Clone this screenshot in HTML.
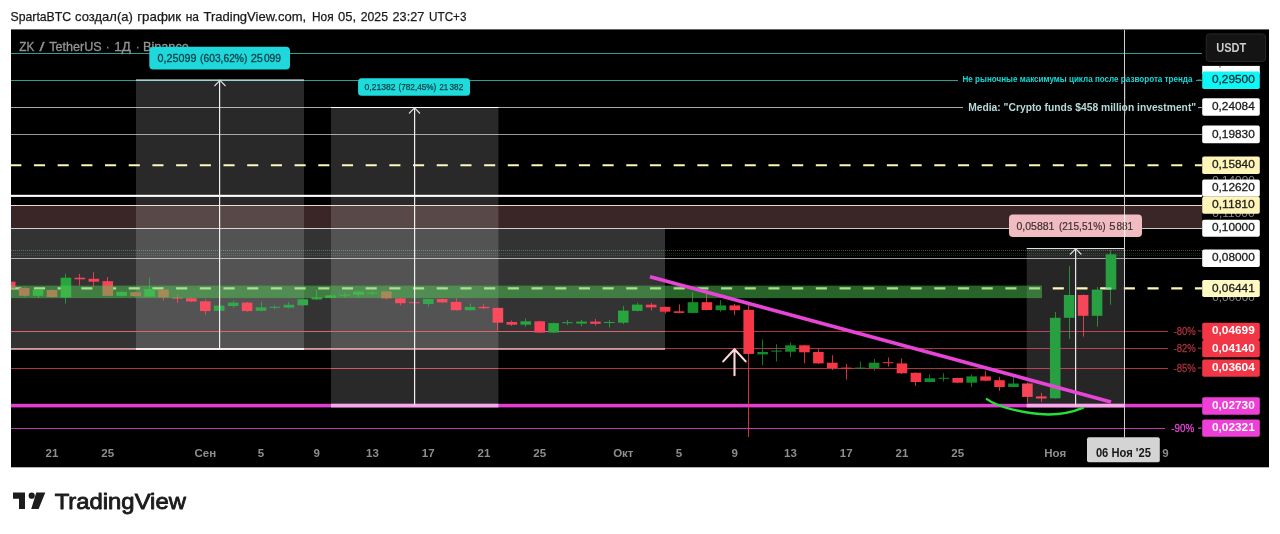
<!DOCTYPE html>
<html><head><meta charset="utf-8"><title>chart</title>
<style>html,body{margin:0;padding:0;background:#fff;width:1280px;height:534px;overflow:hidden}</style>
</head><body>
<svg width="1280" height="534" viewBox="0 0 1280 534" style="position:absolute;left:0;top:0;will-change:transform">
<defs><clipPath id="plot"><rect x="11" y="29.4" width="1191" height="438"/></clipPath></defs>
<rect x="0" y="0" width="1280" height="534" fill="#fff"/>
<rect x="11" y="29.4" width="1258" height="437.9" fill="#000"/>
<g clip-path="url(#plot)">
<rect x="11" y="53" width="1191" height="1" fill="#2f9d93"/>
<rect x="11" y="80" width="1191" height="1" fill="#2f9d93"/>
<rect x="11" y="107" width="1191" height="1" fill="#a8a8a8"/>
<rect x="11" y="134" width="1191" height="1" fill="#9a9a9a"/>
<line x1="10.25" y1="165.2" x2="1202" y2="165.2" stroke="#fff6b4" stroke-width="2.1" stroke-dasharray="11.1 12.593"/>
<rect x="11" y="194.8" width="1191" height="2.1" fill="#fff"/>
<rect x="11" y="205.8" width="1191" height="22.6" fill="#3a2626"/>
<rect x="11" y="205" width="1191" height="1" fill="#e8d8c8"/>
<rect x="11" y="228" width="1191" height="1" fill="#c9c9c9"/>
<line x1="11" y1="250.5" x2="1202" y2="250.5" stroke="#484848" stroke-width="1" stroke-dasharray="1 1"/>
<line x1="11" y1="253.5" x2="1202" y2="253.5" stroke="#142e18" stroke-width="1" stroke-dasharray="1 1"/>
<line x1="11" y1="255.5" x2="1202" y2="255.5" stroke="#142e18" stroke-width="1" stroke-dasharray="1 1"/>
<rect x="11" y="258" width="1191" height="1" fill="#9a9a9a"/>
<rect x="11" y="331" width="1157" height="1" fill="#a83646"/>
<rect x="11" y="348" width="1157" height="1" fill="#a83646"/>
<rect x="11" y="368" width="1157" height="1" fill="#a83646"/>
<rect x="11" y="428" width="1154" height="1" fill="#b93bb0"/>
<line x1="10.25" y1="288.4" x2="1202" y2="288.4" stroke="#fff6b4" stroke-width="2.1" stroke-dasharray="11.1 12.593"/>
<rect x="11" y="403.8" width="1191" height="3.6" fill="#e03fd0"/>
<rect x="11" y="228.4" width="654" height="120.6" fill="#fff" fill-opacity="0.2"/>
<rect x="136" y="80" width="168" height="269" fill="#fff" fill-opacity="0.16"/>
<rect x="331" y="107.5" width="167.4" height="298" fill="#fff" fill-opacity="0.16"/>
<rect x="1026.7" y="248.5" width="98.1" height="157" fill="#fff" fill-opacity="0.15"/>
<rect x="11" y="331" width="654" height="1" fill="#e0626e"/>
<rect x="331" y="368" width="167" height="1" fill="#d05866"/>
<rect x="1026.7" y="368" width="98.09999999999991" height="1" fill="#b84456"/>
<rect x="1026.7" y="331" width="98.09999999999991" height="1" fill="#b84456"/>
<rect x="1026.7" y="348" width="98.09999999999991" height="1" fill="#b84456"/>
<rect x="10" y="281.7" width="1" height="7.3" fill="#fa415a" fill-opacity="0.85"/>
<rect x="4.90" y="281.7" width="10.6" height="6.8" fill="#fa415a"/>
<rect x="24" y="287.5" width="1" height="9.0" fill="#fa415a" fill-opacity="0.85"/>
<rect x="18.83" y="288" width="10.6" height="7.8" fill="#fa415a"/>
<rect x="38" y="289" width="1" height="9.0" fill="#28a53c" fill-opacity="0.85"/>
<rect x="32.77" y="289.5" width="10.6" height="6.3" fill="#28a53c"/>
<rect x="52" y="289.5" width="1" height="8.0" fill="#fa415a" fill-opacity="0.85"/>
<rect x="46.70" y="290" width="10.6" height="7.0" fill="#fa415a"/>
<rect x="65" y="273.8" width="1" height="29.9" fill="#28a53c" fill-opacity="0.85"/>
<rect x="60.63" y="277.7" width="10.6" height="19.7" fill="#28a53c"/>
<rect x="79" y="273.8" width="1" height="11.8" fill="#fa415a" fill-opacity="0.85"/>
<rect x="74.57" y="277.7" width="10.6" height="1.6" fill="#fa415a"/>
<rect x="93" y="272.2" width="1" height="14.2" fill="#fa415a" fill-opacity="0.85"/>
<rect x="88.50" y="278.8" width="10.6" height="2.9" fill="#fa415a"/>
<rect x="107" y="277" width="1" height="19.3" fill="#fa415a" fill-opacity="0.85"/>
<rect x="102.44" y="281.2" width="10.6" height="14.6" fill="#fa415a"/>
<rect x="121" y="291.5" width="1" height="5.0" fill="#28a53c" fill-opacity="0.85"/>
<rect x="116.37" y="291.9" width="10.6" height="3.9" fill="#28a53c"/>
<rect x="135" y="291.8" width="1" height="5.0" fill="#fa415a" fill-opacity="0.85"/>
<rect x="130.30" y="292.2" width="10.6" height="3.9" fill="#fa415a"/>
<rect x="149" y="277.7" width="1" height="19.3" fill="#32aa4b" fill-opacity="0.85"/>
<rect x="144.24" y="289" width="10.6" height="7.6" fill="#32aa4b"/>
<rect x="163" y="289" width="1" height="11.5" fill="#fa4b5f" fill-opacity="0.85"/>
<rect x="158.17" y="289.5" width="10.6" height="7.9" fill="#fa4b5f"/>
<rect x="177" y="294.3" width="1" height="8.7" fill="#fa4b5f" fill-opacity="0.85"/>
<rect x="172.11" y="297.6" width="10.6" height="1.0" fill="#fa4b5f"/>
<rect x="191" y="297.8" width="1" height="4.2" fill="#fa4b5f" fill-opacity="0.85"/>
<rect x="186.04" y="298.2" width="10.6" height="3.3" fill="#fa4b5f"/>
<rect x="205" y="299.5" width="1" height="15.2" fill="#fa4b5f" fill-opacity="0.85"/>
<rect x="199.97" y="301.3" width="10.6" height="9.8" fill="#fa4b5f"/>
<rect x="219" y="305" width="1" height="6.3" fill="#32aa4b" fill-opacity="0.85"/>
<rect x="213.91" y="305.6" width="10.6" height="5.2" fill="#32aa4b"/>
<rect x="233" y="300.5" width="1" height="7.5" fill="#32aa4b" fill-opacity="0.85"/>
<rect x="227.84" y="302.6" width="10.6" height="3.4" fill="#32aa4b"/>
<rect x="247" y="302" width="1" height="9.6" fill="#fa4b5f" fill-opacity="0.85"/>
<rect x="241.78" y="302.6" width="10.6" height="8.5" fill="#fa4b5f"/>
<rect x="261" y="302.1" width="1" height="9.2" fill="#32aa4b" fill-opacity="0.85"/>
<rect x="255.71" y="307.3" width="10.6" height="3.5" fill="#32aa4b"/>
<rect x="274" y="305.5" width="1" height="3.7" fill="#32aa4b" fill-opacity="0.85"/>
<rect x="269.64" y="306.8" width="10.6" height="1.0" fill="#32aa4b"/>
<rect x="288" y="302.1" width="1" height="6.3" fill="#32aa4b" fill-opacity="0.85"/>
<rect x="283.58" y="304.8" width="10.6" height="2.8" fill="#32aa4b"/>
<rect x="302" y="298.8" width="1" height="7.0" fill="#32aa4b" fill-opacity="0.85"/>
<rect x="297.51" y="299.3" width="10.6" height="6.0" fill="#32aa4b"/>
<rect x="316" y="290" width="1" height="10.0" fill="#28a53c" fill-opacity="0.85"/>
<rect x="311.45" y="297.4" width="10.6" height="2.1" fill="#28a53c"/>
<rect x="330" y="294.5" width="1" height="3.8" fill="#28a53c" fill-opacity="0.85"/>
<rect x="325.38" y="295.4" width="10.6" height="2.5" fill="#28a53c"/>
<rect x="344" y="293" width="1" height="4.0" fill="#32aa4b" fill-opacity="0.85"/>
<rect x="339.31" y="294.6" width="10.6" height="1.0" fill="#32aa4b"/>
<rect x="358" y="291" width="1" height="6.4" fill="#32aa4b" fill-opacity="0.85"/>
<rect x="353.25" y="291.6" width="10.6" height="3.1" fill="#32aa4b"/>
<rect x="372" y="291.5" width="1" height="3.3" fill="#32aa4b" fill-opacity="0.85"/>
<rect x="367.18" y="292.6" width="10.6" height="1.0" fill="#32aa4b"/>
<rect x="386" y="291" width="1" height="8.8" fill="#fa4b5f" fill-opacity="0.85"/>
<rect x="381.12" y="291.4" width="10.6" height="7.0" fill="#fa4b5f"/>
<rect x="400" y="298" width="1" height="7.4" fill="#fa4b5f" fill-opacity="0.85"/>
<rect x="395.05" y="298.4" width="10.6" height="4.8" fill="#fa4b5f"/>
<rect x="414" y="301.5" width="1" height="2.5" fill="#fa4b5f" fill-opacity="0.85"/>
<rect x="408.98" y="302.2" width="10.6" height="1.0" fill="#fa4b5f"/>
<rect x="428" y="298.6" width="1" height="8.0" fill="#32aa4b" fill-opacity="0.85"/>
<rect x="422.92" y="299" width="10.6" height="5.0" fill="#32aa4b"/>
<rect x="442" y="298.6" width="1" height="4.3" fill="#fa4b5f" fill-opacity="0.85"/>
<rect x="436.85" y="299" width="10.6" height="3.4" fill="#fa4b5f"/>
<rect x="456" y="298.4" width="1" height="12.3" fill="#fa4b5f" fill-opacity="0.85"/>
<rect x="450.79" y="301.9" width="10.6" height="8.3" fill="#fa4b5f"/>
<rect x="470" y="303.5" width="1" height="7.2" fill="#32aa4b" fill-opacity="0.85"/>
<rect x="464.72" y="306.9" width="10.6" height="3.3" fill="#32aa4b"/>
<rect x="483" y="304.3" width="1" height="4.9" fill="#fa4b5f" fill-opacity="0.85"/>
<rect x="478.65" y="306.9" width="10.6" height="1.3" fill="#fa4b5f"/>
<rect x="497" y="307.4" width="1" height="23.1" fill="#fa4b5f" fill-opacity="0.85"/>
<rect x="492.59" y="307.9" width="10.6" height="14.8" fill="#fa4b5f"/>
<rect x="511" y="320.5" width="1" height="5.5" fill="#fa415a" fill-opacity="0.85"/>
<rect x="506.52" y="322" width="10.6" height="2.7" fill="#fa415a"/>
<rect x="525" y="318.4" width="1" height="8.4" fill="#28a53c" fill-opacity="0.85"/>
<rect x="520.46" y="321.3" width="10.6" height="3.4" fill="#28a53c"/>
<rect x="539" y="320.8" width="1" height="12.2" fill="#fa415a" fill-opacity="0.85"/>
<rect x="534.39" y="321.3" width="10.6" height="11.3" fill="#fa415a"/>
<rect x="553" y="322.6" width="1" height="10.4" fill="#28a53c" fill-opacity="0.85"/>
<rect x="548.32" y="323.1" width="10.6" height="9.5" fill="#28a53c"/>
<rect x="567" y="320" width="1" height="5.0" fill="#28a53c" fill-opacity="0.85"/>
<rect x="562.26" y="322.2" width="10.6" height="1.0" fill="#28a53c"/>
<rect x="581" y="320" width="1" height="6.3" fill="#28a53c" fill-opacity="0.85"/>
<rect x="576.19" y="321.6" width="10.6" height="2.0" fill="#28a53c"/>
<rect x="595" y="318.9" width="1" height="6.6" fill="#fa415a" fill-opacity="0.85"/>
<rect x="590.13" y="321.6" width="10.6" height="2.2" fill="#fa415a"/>
<rect x="609" y="320" width="1" height="7.4" fill="#28a53c" fill-opacity="0.85"/>
<rect x="604.06" y="322" width="10.6" height="1.0" fill="#28a53c"/>
<rect x="623" y="305.8" width="1" height="18.2" fill="#28a53c" fill-opacity="0.85"/>
<rect x="617.99" y="310.6" width="10.6" height="12.1" fill="#28a53c"/>
<rect x="637" y="302.7" width="1" height="8.6" fill="#28a53c" fill-opacity="0.85"/>
<rect x="631.93" y="304.6" width="10.6" height="6.3" fill="#28a53c"/>
<rect x="651" y="303" width="1" height="7.6" fill="#fa415a" fill-opacity="0.85"/>
<rect x="645.86" y="304.7" width="10.6" height="2.7" fill="#fa415a"/>
<rect x="665" y="306.5" width="1" height="7.2" fill="#f53746" fill-opacity="0.85"/>
<rect x="659.80" y="306.9" width="10.6" height="4.8" fill="#f53746"/>
<rect x="679" y="304.3" width="1" height="9.0" fill="#f53746" fill-opacity="0.85"/>
<rect x="673.73" y="311.3" width="10.6" height="1.6" fill="#f53746"/>
<rect x="692" y="292.5" width="1" height="20.8" fill="#148c28" fill-opacity="0.85"/>
<rect x="687.66" y="302.2" width="10.6" height="10.7" fill="#148c28"/>
<rect x="706" y="294" width="1" height="16.5" fill="#f53746" fill-opacity="0.85"/>
<rect x="701.60" y="302.2" width="10.6" height="7.8" fill="#f53746"/>
<rect x="720" y="300" width="1" height="11.7" fill="#148c28" fill-opacity="0.85"/>
<rect x="715.53" y="305.4" width="10.6" height="4.8" fill="#148c28"/>
<rect x="734" y="304" width="1" height="11.3" fill="#f53746" fill-opacity="0.85"/>
<rect x="729.47" y="305.4" width="10.6" height="4.8" fill="#f53746"/>
<rect x="748" y="303.5" width="1" height="133.5" fill="#f53746" fill-opacity="0.85"/>
<rect x="743.40" y="309.8" width="10.6" height="44.1" fill="#f53746"/>
<rect x="762" y="339.4" width="1" height="26.0" fill="#148c28" fill-opacity="0.85"/>
<rect x="757.33" y="352" width="10.6" height="2.4" fill="#148c28"/>
<rect x="776" y="344.2" width="1" height="17.3" fill="#148c28" fill-opacity="0.85"/>
<rect x="771.27" y="350.6" width="10.6" height="1.0" fill="#148c28"/>
<rect x="790" y="342.3" width="1" height="14.7" fill="#148c28" fill-opacity="0.85"/>
<rect x="785.20" y="345.3" width="10.6" height="6.4" fill="#148c28"/>
<rect x="804" y="344.8" width="1" height="18.6" fill="#f53746" fill-opacity="0.85"/>
<rect x="799.14" y="345.3" width="10.6" height="7.0" fill="#f53746"/>
<rect x="818" y="348.6" width="1" height="15.4" fill="#f53746" fill-opacity="0.85"/>
<rect x="813.07" y="352" width="10.6" height="11.4" fill="#f53746"/>
<rect x="832" y="355.2" width="1" height="14.8" fill="#f53746" fill-opacity="0.85"/>
<rect x="827.00" y="362.7" width="10.6" height="5.3" fill="#f53746"/>
<rect x="846" y="363.8" width="1" height="15.8" fill="#f53746" fill-opacity="0.85"/>
<rect x="840.94" y="367.6" width="10.6" height="1.0" fill="#f53746"/>
<rect x="860" y="361.5" width="1" height="7.8" fill="#148c28" fill-opacity="0.85"/>
<rect x="854.87" y="367.6" width="10.6" height="1.0" fill="#148c28"/>
<rect x="874" y="359" width="1" height="11.6" fill="#148c28" fill-opacity="0.85"/>
<rect x="868.81" y="362.7" width="10.6" height="5.3" fill="#148c28"/>
<rect x="888" y="357.5" width="1" height="9.0" fill="#f53746" fill-opacity="0.85"/>
<rect x="882.74" y="362.2" width="10.6" height="1.0" fill="#f53746"/>
<rect x="901" y="358.3" width="1" height="15.5" fill="#f53746" fill-opacity="0.85"/>
<rect x="896.67" y="363.4" width="10.6" height="9.9" fill="#f53746"/>
<rect x="915" y="372.4" width="1" height="13.5" fill="#f53746" fill-opacity="0.85"/>
<rect x="910.61" y="372.8" width="10.6" height="9.2" fill="#f53746"/>
<rect x="929" y="374.4" width="1" height="8.0" fill="#148c28" fill-opacity="0.85"/>
<rect x="924.54" y="378.3" width="10.6" height="3.7" fill="#148c28"/>
<rect x="943" y="373.3" width="1" height="8.2" fill="#148c28" fill-opacity="0.85"/>
<rect x="938.48" y="377.8" width="10.6" height="1.0" fill="#148c28"/>
<rect x="957" y="377.6" width="1" height="5.5" fill="#f53746" fill-opacity="0.85"/>
<rect x="952.41" y="378" width="10.6" height="4.7" fill="#f53746"/>
<rect x="971" y="374.4" width="1" height="12.6" fill="#148c28" fill-opacity="0.85"/>
<rect x="966.34" y="376.4" width="10.6" height="6.3" fill="#148c28"/>
<rect x="985" y="371.2" width="1" height="9.9" fill="#f53746" fill-opacity="0.85"/>
<rect x="980.28" y="376.4" width="10.6" height="4.3" fill="#f53746"/>
<rect x="999" y="376.8" width="1" height="14.1" fill="#f53746" fill-opacity="0.85"/>
<rect x="994.21" y="380.2" width="10.6" height="6.8" fill="#f53746"/>
<rect x="1013" y="376" width="1" height="11.4" fill="#148c28" fill-opacity="0.85"/>
<rect x="1008.15" y="383.5" width="10.6" height="3.5" fill="#148c28"/>
<rect x="1027" y="383" width="1" height="19.7" fill="#f5465a" fill-opacity="0.85"/>
<rect x="1022.08" y="383.5" width="10.6" height="13.4" fill="#f5465a"/>
<rect x="1041" y="392.8" width="1" height="9.1" fill="#f5465a" fill-opacity="0.85"/>
<rect x="1036.01" y="396.4" width="10.6" height="2.1" fill="#f5465a"/>
<rect x="1055" y="312" width="1" height="86.7" fill="#28a041" fill-opacity="0.85"/>
<rect x="1049.95" y="317.8" width="10.6" height="80.5" fill="#28a041"/>
<rect x="1069" y="266" width="1" height="73.0" fill="#28a041" fill-opacity="0.85"/>
<rect x="1063.88" y="295" width="10.6" height="22.8" fill="#28a041"/>
<rect x="1083" y="294.6" width="1" height="42.0" fill="#f5465a" fill-opacity="0.85"/>
<rect x="1077.82" y="295" width="10.6" height="20.8" fill="#f5465a"/>
<rect x="1097" y="287" width="1" height="39.6" fill="#28a041" fill-opacity="0.85"/>
<rect x="1091.75" y="289.6" width="10.6" height="26.2" fill="#28a041"/>
<rect x="1110" y="250.5" width="1" height="54.2" fill="#28a041" fill-opacity="0.85"/>
<rect x="1105.68" y="254.3" width="10.6" height="35.3" fill="#28a041"/>
<rect x="1105.4" y="287.4" width="6.1" height="2.1" fill="#a8f0a0" fill-opacity="0.8"/>
<rect x="11" y="285.6" width="1031" height="12.5" fill="rgb(80,200,84)" fill-opacity="0.5"/>
<rect x="11" y="348.2" width="654" height="1.6" fill="#e0a8b0"/>
<rect x="136" y="79.5" width="168" height="1" fill="#e8ffff"/>
<rect x="136" y="348.2" width="168" height="1.6" fill="#fff"/>
<rect x="219" y="80" width="1.2" height="269" fill="#f0f0f0"/>
<path d="M214.5 86 L220 80.3 L225.5 86" fill="none" stroke="#ddd" stroke-width="1.1"/>
<rect x="331" y="107" width="167.4" height="1" fill="#fff"/>
<rect x="331" y="403.8" width="167.4" height="3.6" fill="#f4a8ea"/>
<rect x="414" y="107.5" width="1.2" height="298" fill="#f0f0f0"/>
<path d="M409 113.5 L414.5 107.8 L420 113.5" fill="none" stroke="#ddd" stroke-width="1.1"/>
<rect x="1026.7" y="248" width="98.1" height="1" fill="#e0e0e0"/>
<rect x="1026.7" y="403.8" width="98.1" height="3.6" fill="#f4a8ea"/>
<rect x="1075" y="248.5" width="1.2" height="157" fill="#e8e8e8"/>
<path d="M1070 254.5 L1075.7 248.8 L1081.4 254.5" fill="none" stroke="#ddd" stroke-width="1.1"/>
<line x1="650" y1="276.7" x2="1111" y2="402" stroke="#e645d6" stroke-width="3.6" stroke-linecap="butt"/>
<path d="M986.9 399.1 C 993 403.5, 1003 407, 1010 408.8 C 1022 412, 1036 414.3, 1048 414.5 C 1060 414.6, 1074 411.5, 1082.9 407.9" fill="none" stroke="#25e03a" stroke-width="2.4" stroke-linecap="round"/>
<path d="M734.5 375.3 L734.5 349.3 M723.2 361.4 L734.5 349.3 L745.7 361.4" fill="none" stroke="#ffd9d9" stroke-width="2.1" stroke-linecap="round" stroke-linejoin="round"/>
<rect x="1124" y="29.4" width="1" height="408" fill="#d0d0d0"/>
</g>
<text x="19.20" y="50.6" font-family="Liberation Sans, sans-serif" font-size="12.6" fill="#949494" stroke="#949494" stroke-width="0.3" textLength="15.05" lengthAdjust="spacingAndGlyphs">ZK</text>
<text x="39.50" y="50.6" font-family="Liberation Sans, sans-serif" font-size="12.6" fill="#949494" stroke="#949494" stroke-width="0.3" textLength="5.00" lengthAdjust="spacingAndGlyphs">/</text>
<text x="49.20" y="50.6" font-family="Liberation Sans, sans-serif" font-size="12.6" fill="#949494" stroke="#949494" stroke-width="0.3" textLength="52.55" lengthAdjust="spacingAndGlyphs">TetherUS</text>
<text x="106.10" y="50.6" font-family="Liberation Sans, sans-serif" font-size="12.6" fill="#949494" stroke="#949494" stroke-width="0.3" textLength="3.40" lengthAdjust="spacingAndGlyphs">·</text>
<text x="114.25" y="50.6" font-family="Liberation Sans, sans-serif" font-size="12.6" fill="#949494" stroke="#949494" stroke-width="0.3" textLength="16.55" lengthAdjust="spacingAndGlyphs">1Д</text>
<text x="136.10" y="50.6" font-family="Liberation Sans, sans-serif" font-size="12.6" fill="#949494" stroke="#949494" stroke-width="0.3" textLength="3.40" lengthAdjust="spacingAndGlyphs">·</text>
<text x="142.90" y="50.6" font-family="Liberation Sans, sans-serif" font-size="12.6" fill="#949494" stroke="#949494" stroke-width="0.3" textLength="46.00" lengthAdjust="spacingAndGlyphs">Binance</text>
<rect x="149.3" y="46.8" width="140.7" height="22.7" rx="4" fill="#1ed8dc"/>
<text x="157.60" y="61.8" font-family="Liberation Sans, sans-serif" font-size="11.2" fill="#0c3e44" stroke="#0c3e44" stroke-width="0.3" textLength="38.90" lengthAdjust="spacingAndGlyphs">0,25099</text>
<text x="200.10" y="61.8" font-family="Liberation Sans, sans-serif" font-size="11.2" fill="#0c3e44" stroke="#0c3e44" stroke-width="0.3" textLength="47.30" lengthAdjust="spacingAndGlyphs">(603,62%)</text>
<text x="250.75" y="61.8" font-family="Liberation Sans, sans-serif" font-size="11.2" fill="#0c3e44" stroke="#0c3e44" stroke-width="0.3" textLength="12.25" lengthAdjust="spacingAndGlyphs">25</text>
<text x="263.90" y="61.8" font-family="Liberation Sans, sans-serif" font-size="11.2" fill="#0c3e44" stroke="#0c3e44" stroke-width="0.3" textLength="17.20" lengthAdjust="spacingAndGlyphs">099</text>
<rect x="358.1" y="78.2" width="111.9" height="17.6" rx="3.5" fill="#1edcdc"/>
<text x="364.50" y="89.9" font-family="Liberation Sans, sans-serif" font-size="9.5" fill="#0c3e44" stroke="#0c3e44" stroke-width="0.25" textLength="31.00" lengthAdjust="spacingAndGlyphs">0,21382</text>
<text x="398.50" y="89.9" font-family="Liberation Sans, sans-serif" font-size="9.5" fill="#0c3e44" stroke="#0c3e44" stroke-width="0.25" textLength="37.80" lengthAdjust="spacingAndGlyphs">(782,45%)</text>
<text x="439.40" y="89.9" font-family="Liberation Sans, sans-serif" font-size="9.5" fill="#0c3e44" stroke="#0c3e44" stroke-width="0.25" textLength="8.60" lengthAdjust="spacingAndGlyphs">21</text>
<text x="449.50" y="89.9" font-family="Liberation Sans, sans-serif" font-size="9.5" fill="#0c3e44" stroke="#0c3e44" stroke-width="0.25" textLength="13.70" lengthAdjust="spacingAndGlyphs">382</text>
<rect x="1009" y="214.6" width="133" height="22.4" rx="4" fill="#f1bcc1"/>
<text x="1016.40" y="230" font-family="Liberation Sans, sans-serif" font-size="11.3" fill="#40302f" stroke="#40302f" stroke-width="0.2" textLength="38.10" lengthAdjust="spacingAndGlyphs">0,05881</text>
<text x="1058.90" y="230" font-family="Liberation Sans, sans-serif" font-size="11.3" fill="#40302f" stroke="#40302f" stroke-width="0.2" textLength="46.60" lengthAdjust="spacingAndGlyphs">(215,51%)</text>
<text x="1109.25" y="230" font-family="Liberation Sans, sans-serif" font-size="11.3" fill="#40302f" stroke="#40302f" stroke-width="0.2" textLength="6.25" lengthAdjust="spacingAndGlyphs">5</text>
<text x="1116.40" y="230" font-family="Liberation Sans, sans-serif" font-size="11.3" fill="#40302f" stroke="#40302f" stroke-width="0.2" textLength="16.85" lengthAdjust="spacingAndGlyphs">881</text>
<rect x="1124.1" y="214.6" width="1.1" height="22.4" fill="#fff" fill-opacity="0.85"/>
<rect x="958" y="74" width="238" height="12" fill="#000"/>
<text x="962.5" y="81.9" font-family="Liberation Sans, sans-serif" font-size="9" font-weight="bold" fill="#14d8d8" textLength="230" lengthAdjust="spacingAndGlyphs">Не рыночные максимумы цикла после разворота тренда</text>
<rect x="1197.5" y="79.5" width="3.5" height="1.1" fill="#2f9d93"/>
<rect x="963" y="100" width="236" height="15" fill="#000"/>
<text x="968.2" y="111.2" font-family="Liberation Sans, sans-serif" font-size="11.5" font-weight="bold" fill="#b6dada" textLength="228" lengthAdjust="spacingAndGlyphs">Media: "Crypto funds $458 million investment"</text>
<rect x="1198" y="107" width="3.5" height="1.1" fill="#a8a8a8"/>
<rect x="1124.1" y="74" width="1.1" height="41" fill="#d0d0d0"/>
<text x="1173.5" y="335" font-family="Liberation Sans, sans-serif" font-size="11.5" fill="#a8323c" stroke="#a8323c" stroke-width="0.3" textLength="22.2" lengthAdjust="spacingAndGlyphs">-80%</text>
<rect x="1198" y="330.4" width="3.5" height="1.1" fill="#a8323c"/>
<text x="1173.5" y="352.3" font-family="Liberation Sans, sans-serif" font-size="11.5" fill="#a8323c" stroke="#a8323c" stroke-width="0.3" textLength="22.2" lengthAdjust="spacingAndGlyphs">-82%</text>
<rect x="1198" y="347.7" width="3.5" height="1.1" fill="#a8323c"/>
<text x="1173.5" y="372" font-family="Liberation Sans, sans-serif" font-size="11.5" fill="#a8323c" stroke="#a8323c" stroke-width="0.3" textLength="22.2" lengthAdjust="spacingAndGlyphs">-85%</text>
<rect x="1198" y="367.4" width="3.5" height="1.1" fill="#a8323c"/>
<text x="1171.3" y="432.2" font-family="Liberation Sans, sans-serif" font-size="11.5" fill="#e848d8" stroke="#e848d8" stroke-width="0.3" textLength="23" lengthAdjust="spacingAndGlyphs">-90%</text>
<rect x="1198" y="427.59999999999997" width="3.5" height="1.1" fill="#e848d8"/>
<text x="1212.3" y="183.9" font-family="Liberation Sans, sans-serif" font-size="11.5" fill="#8c8c8c" textLength="42.4" lengthAdjust="spacingAndGlyphs">0,14000</text>
<text x="1212.3" y="217.4" font-family="Liberation Sans, sans-serif" font-size="11.5" fill="#8c8c8c" textLength="42.4" lengthAdjust="spacingAndGlyphs">0,11000</text>
<text x="1212.3" y="301.4" font-family="Liberation Sans, sans-serif" font-size="11.5" fill="#8c8c8c" textLength="42.4" lengthAdjust="spacingAndGlyphs">0,06000</text>
<rect x="1202.2" y="65.9" width="57.6" height="8" fill="#fff"/>
<rect x="1219.5" y="66" width="1.2" height="1.6" fill="#866"/>
<rect x="1202.2" y="71.5" width="57.6" height="17.6" rx="1.8" fill="#0ef6f6"/>
<text x="1212.0" y="83.4" font-family="Liberation Sans, sans-serif" font-size="11.5" stroke="#0a3038" stroke-width="0.3" fill="#0a3038" textLength="42.8" lengthAdjust="spacingAndGlyphs">0,29500</text>
<rect x="1202.2" y="98.2" width="57.6" height="17.6" rx="1.8" fill="#fff"/>
<text x="1212.0" y="110.1" font-family="Liberation Sans, sans-serif" font-size="11.5" stroke="#1c1c1c" stroke-width="0.3" fill="#1c1c1c" textLength="42.8" lengthAdjust="spacingAndGlyphs">0,24084</text>
<rect x="1202.2" y="125.6" width="57.6" height="17.6" rx="1.8" fill="#fff"/>
<text x="1212.0" y="137.5" font-family="Liberation Sans, sans-serif" font-size="11.5" stroke="#1c1c1c" stroke-width="0.3" fill="#1c1c1c" textLength="42.8" lengthAdjust="spacingAndGlyphs">0,19830</text>
<rect x="1202.2" y="156.5" width="57.6" height="17.6" rx="1.8" fill="#fff5b8"/>
<text x="1212.0" y="168.4" font-family="Liberation Sans, sans-serif" font-size="11.5" stroke="#1c1c1c" stroke-width="0.3" fill="#1c1c1c" textLength="42.8" lengthAdjust="spacingAndGlyphs">0,15840</text>
<rect x="1202.2" y="179.6" width="57.6" height="17.2" rx="1.8" fill="#fff"/>
<text x="1212.0" y="191.3" font-family="Liberation Sans, sans-serif" font-size="11.5" stroke="#1c1c1c" stroke-width="0.3" fill="#1c1c1c" textLength="42.8" lengthAdjust="spacingAndGlyphs">0,12620</text>
<rect x="1202.2" y="196.7" width="57.6" height="17" rx="1.8" fill="#fff5b8"/>
<text x="1212.0" y="208.3" font-family="Liberation Sans, sans-serif" font-size="11.5" stroke="#1c1c1c" stroke-width="0.3" fill="#1c1c1c" textLength="42.8" lengthAdjust="spacingAndGlyphs">0,11810</text>
<rect x="1202.2" y="219.7" width="57.6" height="17" rx="1.8" fill="#fff"/>
<text x="1212.0" y="231.3" font-family="Liberation Sans, sans-serif" font-size="11.5" stroke="#1c1c1c" stroke-width="0.3" fill="#1c1c1c" textLength="42.8" lengthAdjust="spacingAndGlyphs">0,10000</text>
<rect x="1202.2" y="249.5" width="57.6" height="17.6" rx="1.8" fill="#fff"/>
<text x="1212.0" y="261.4" font-family="Liberation Sans, sans-serif" font-size="11.5" stroke="#1c1c1c" stroke-width="0.3" fill="#1c1c1c" textLength="42.8" lengthAdjust="spacingAndGlyphs">0,08000</text>
<rect x="1202.2" y="279.9" width="57.6" height="17.2" rx="1.8" fill="#fff9c4"/>
<text x="1212.0" y="291.6" font-family="Liberation Sans, sans-serif" font-size="11.5" stroke="#1c1c1c" stroke-width="0.3" fill="#1c1c1c" textLength="42.8" lengthAdjust="spacingAndGlyphs">0,06441</text>
<rect x="1202.2" y="322.7" width="57.6" height="17.2" rx="1.8" fill="#f23645"/>
<text x="1212.0" y="334.4" font-family="Liberation Sans, sans-serif" font-size="11.5" font-weight="bold" fill="#fff" textLength="42.8" lengthAdjust="spacingAndGlyphs">0,04699</text>
<rect x="1202.2" y="340.0" width="57.6" height="17.2" rx="1.8" fill="#f23645"/>
<text x="1212.0" y="351.7" font-family="Liberation Sans, sans-serif" font-size="11.5" font-weight="bold" fill="#fff" textLength="42.8" lengthAdjust="spacingAndGlyphs">0,04140</text>
<rect x="1202.2" y="359.6" width="57.6" height="17.2" rx="1.8" fill="#f23645"/>
<text x="1212.0" y="371.3" font-family="Liberation Sans, sans-serif" font-size="11.5" font-weight="bold" fill="#fff" textLength="42.8" lengthAdjust="spacingAndGlyphs">0,03604</text>
<rect x="1202.2" y="397.2" width="57.6" height="17.6" rx="1.8" fill="#ee3fd6"/>
<text x="1212.0" y="409.1" font-family="Liberation Sans, sans-serif" font-size="11.5" font-weight="bold" fill="#fff" textLength="42.8" lengthAdjust="spacingAndGlyphs">0,02730</text>
<rect x="1202.2" y="419.5" width="57.6" height="17.2" rx="1.8" fill="#ee3fd6"/>
<text x="1212.0" y="431.2" font-family="Liberation Sans, sans-serif" font-size="11.5" font-weight="bold" fill="#fff" textLength="42.8" lengthAdjust="spacingAndGlyphs">0,02321</text>
<rect x="1206.2" y="33.9" width="59.4" height="27.6" rx="3.5" fill="#141414" stroke="#282828" stroke-width="1"/>
<text x="1216.2" y="52.3" font-family="Liberation Sans, sans-serif" font-size="12.5" font-weight="bold" fill="#cccccc" textLength="30" lengthAdjust="spacingAndGlyphs">USDT</text>
<text x="52.0" y="457.0" font-family="Liberation Sans, sans-serif" font-size="11.5" font-weight="bold" fill="#8e8e8e" text-anchor="middle">21</text>
<text x="107.7" y="457.0" font-family="Liberation Sans, sans-serif" font-size="11.5" font-weight="bold" fill="#8e8e8e" text-anchor="middle">25</text>
<text x="205.3" y="457.0" font-family="Liberation Sans, sans-serif" font-size="11.5" font-weight="bold" fill="#8e8e8e" text-anchor="middle">Сен</text>
<text x="261.0" y="457.0" font-family="Liberation Sans, sans-serif" font-size="11.5" font-weight="bold" fill="#8e8e8e" text-anchor="middle">5</text>
<text x="316.7" y="457.0" font-family="Liberation Sans, sans-serif" font-size="11.5" font-weight="bold" fill="#8e8e8e" text-anchor="middle">9</text>
<text x="372.5" y="457.0" font-family="Liberation Sans, sans-serif" font-size="11.5" font-weight="bold" fill="#8e8e8e" text-anchor="middle">13</text>
<text x="428.2" y="457.0" font-family="Liberation Sans, sans-serif" font-size="11.5" font-weight="bold" fill="#8e8e8e" text-anchor="middle">17</text>
<text x="484.0" y="457.0" font-family="Liberation Sans, sans-serif" font-size="11.5" font-weight="bold" fill="#8e8e8e" text-anchor="middle">21</text>
<text x="539.7" y="457.0" font-family="Liberation Sans, sans-serif" font-size="11.5" font-weight="bold" fill="#8e8e8e" text-anchor="middle">25</text>
<text x="623.3" y="457.0" font-family="Liberation Sans, sans-serif" font-size="11.5" font-weight="bold" fill="#8e8e8e" text-anchor="middle">Окт</text>
<text x="679.0" y="457.0" font-family="Liberation Sans, sans-serif" font-size="11.5" font-weight="bold" fill="#8e8e8e" text-anchor="middle">5</text>
<text x="734.8" y="457.0" font-family="Liberation Sans, sans-serif" font-size="11.5" font-weight="bold" fill="#8e8e8e" text-anchor="middle">9</text>
<text x="790.5" y="457.0" font-family="Liberation Sans, sans-serif" font-size="11.5" font-weight="bold" fill="#8e8e8e" text-anchor="middle">13</text>
<text x="846.2" y="457.0" font-family="Liberation Sans, sans-serif" font-size="11.5" font-weight="bold" fill="#8e8e8e" text-anchor="middle">17</text>
<text x="902.0" y="457.0" font-family="Liberation Sans, sans-serif" font-size="11.5" font-weight="bold" fill="#8e8e8e" text-anchor="middle">21</text>
<text x="957.7" y="457.0" font-family="Liberation Sans, sans-serif" font-size="11.5" font-weight="bold" fill="#8e8e8e" text-anchor="middle">25</text>
<text x="1055.2" y="457.0" font-family="Liberation Sans, sans-serif" font-size="11.5" font-weight="bold" fill="#8e8e8e" text-anchor="middle">Ноя</text>
<text x="1165.4" y="457.0" font-family="Liberation Sans, sans-serif" font-size="11.5" font-weight="bold" fill="#8e8e8e" text-anchor="middle">9</text>
<rect x="1087" y="437.2" width="72.8" height="25" rx="2" fill="#d4d4d4"/>
<text x="1123.4" y="456.6" font-family="Liberation Sans, sans-serif" font-size="12" font-weight="bold" fill="#1a1a1a" text-anchor="middle" textLength="55" lengthAdjust="spacingAndGlyphs">06 Ноя '25</text>
<text x="10.50" y="20.5" font-family="Liberation Sans, sans-serif" font-size="13.1" fill="#1a1a1a" stroke="#1a1a1a" stroke-width="0.25" textLength="60.60" lengthAdjust="spacingAndGlyphs">SpartaBTC</text>
<text x="75.10" y="20.5" font-family="Liberation Sans, sans-serif" font-size="13.1" fill="#1a1a1a" stroke="#1a1a1a" stroke-width="0.25" textLength="57.70" lengthAdjust="spacingAndGlyphs">создал(а)</text>
<text x="137.25" y="20.5" font-family="Liberation Sans, sans-serif" font-size="13.1" fill="#1a1a1a" stroke="#1a1a1a" stroke-width="0.25" textLength="43.85" lengthAdjust="spacingAndGlyphs">график</text>
<text x="185.75" y="20.5" font-family="Liberation Sans, sans-serif" font-size="13.1" fill="#1a1a1a" stroke="#1a1a1a" stroke-width="0.25" textLength="13.25" lengthAdjust="spacingAndGlyphs">на</text>
<text x="203.50" y="20.5" font-family="Liberation Sans, sans-serif" font-size="13.1" fill="#1a1a1a" stroke="#1a1a1a" stroke-width="0.25" textLength="102.60" lengthAdjust="spacingAndGlyphs">TradingView.com,</text>
<text x="312.00" y="20.5" font-family="Liberation Sans, sans-serif" font-size="13.1" fill="#1a1a1a" stroke="#1a1a1a" stroke-width="0.25" textLength="21.60" lengthAdjust="spacingAndGlyphs">Ноя</text>
<text x="338.00" y="20.5" font-family="Liberation Sans, sans-serif" font-size="13.1" fill="#1a1a1a" stroke="#1a1a1a" stroke-width="0.25" textLength="18.10" lengthAdjust="spacingAndGlyphs">05,</text>
<text x="360.75" y="20.5" font-family="Liberation Sans, sans-serif" font-size="13.1" fill="#1a1a1a" stroke="#1a1a1a" stroke-width="0.25" textLength="27.25" lengthAdjust="spacingAndGlyphs">2025</text>
<text x="392.60" y="20.5" font-family="Liberation Sans, sans-serif" font-size="13.1" fill="#1a1a1a" stroke="#1a1a1a" stroke-width="0.25" textLength="31.65" lengthAdjust="spacingAndGlyphs">23:27</text>
<text x="429.10" y="20.5" font-family="Liberation Sans, sans-serif" font-size="13.1" fill="#1a1a1a" stroke="#1a1a1a" stroke-width="0.25" textLength="37.30" lengthAdjust="spacingAndGlyphs">UTC+3</text>
<path d="M13 492.5 H25 V508.9 H19 V498.8 H13 Z" fill="#1c1c1c"/>
<circle cx="31.7" cy="495.7" r="3.1" fill="#1c1c1c"/>
<path d="M36.3 492.5 H45.3 L38.6 508.9 H31.2 Z" fill="#1c1c1c"/>
<text x="54.7" y="508.5" font-family="Liberation Sans, sans-serif" font-size="22.5" fill="#1c1c1c" stroke="#1c1c1c" stroke-width="0.9" stroke-linejoin="round" textLength="131.2" lengthAdjust="spacingAndGlyphs">TradingView</text>
</svg>
</body></html>
